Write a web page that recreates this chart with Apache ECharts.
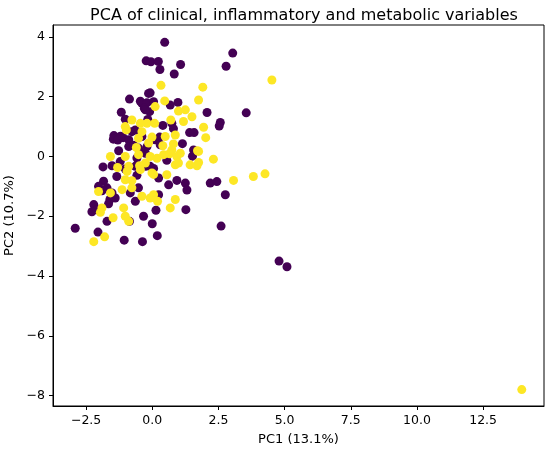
<!DOCTYPE html>
<html>
<head>
<meta charset="utf-8">
<script src="https://cdn.jsdelivr.net/npm/echarts@6/dist/echarts.min.js"></script>
<style>
  html, body { margin: 0; padding: 0; background: #fff; }
  #chart { width: 550px; height: 452px; }
</style>
</head>
<body>
<div id="chart"></div>
<script>
// PC1 / PC2 scores, group 0 (dark purple)
var group0 = [
  [0.47, 3.82], [3.04, 3.46], [2.79, 3.02], [1.07, 3.08], [-0.23, 3.2], [-0.05, 3.17],
  [0.23, 3.18], [0.29, 2.91], [0.83, 2.76], [-0.08, 2.13], [-0.14, 2.11], [-0.86, 1.92],
  [0.97, 1.81], [-0.39, 1.78], [-0.45, 1.85], [-0.2, 1.8], [0.05, 1.83], [-0.3, 1.61],
  [-0.1, 1.5], [-0.26, 1.56], [0.68, 1.72], [2.07, 1.47], [3.55, 1.46], [-1.17, 1.48],
  [-1.02, 1.25], [-0.17, 1.24], [0.4, 1.04], [0.74, 1.11], [2.57, 1.14], [2.53, 1.02],
  [0.8, 0.93], [1.41, 0.8], [1.58, 0.8], [-1.45, 0.7], [-1.35, 0.62], [-1.2, 0.68],
  [-1.47, 0.58], [-1.3, 0.55], [-1.1, 0.63], [-0.89, 0.56], [-0.77, 0.83], [-0.64, 0.89],
  [-0.39, 0.67], [-0.45, 0.8], [0.11, 0.56], [0.28, 0.65], [0.3, 0.39], [1.14, 0.43],
  [-0.89, 0.33], [-0.52, 0.28], [-0.7, 0.38], [-1.27, 0.19], [-0.26, 0.11], [-0.2, 0.33],
  [-0.45, 0.16], [1.56, 0.22], [1.52, 0.01], [0.55, -0.13], [-0.58, -0.05], [-1.21, -0.17],
  [-0.64, -0.33], [-0.25, -0.33], [0.05, -0.4], [-1.86, -0.35], [-1.52, -0.31], [-1.02, -0.42],
  [-1.34, -0.67], [-0.58, -0.63], [-0.08, -0.33], [0.24, -0.72], [0.62, -0.95], [0.93, -0.8],
  [1.25, -0.89], [1.31, -1.12], [2.19, -0.89], [2.44, -0.84], [2.76, -1.28], [-1.84, -0.83],
  [-2.03, -1.0], [-1.71, -1.05], [-1.9, -1.15], [-1.52, -1.22], [-1.4, -1.39], [-1.6, -1.44],
  [-0.52, -1.05], [-0.83, -1.22], [0.24, -1.28], [-0.64, -1.5], [-2.21, -1.61], [-2.09, -1.78],
  [-2.28, -1.85], [-1.65, -1.58], [-1.71, -2.17], [-0.86, -2.17], [-0.33, -2.0], [0.0, -2.25],
  [0.14, -1.8], [1.27, -1.78], [2.6, -2.33], [-2.91, -2.4], [-2.05, -2.53], [-1.06, -2.8],
  [-0.37, -2.85], [0.19, -2.65], [4.79, -3.5], [5.09, -3.69]
];

// PC1 / PC2 scores, group 1 (yellow)
var group1 = [
  [4.52, 2.56], [0.33, 2.38], [1.91, 2.32], [1.75, 1.89], [0.47, 1.86], [0.11, 1.67],
  [0.99, 1.52], [1.25, 1.56], [1.5, 1.33], [-0.77, 1.22], [-0.45, 1.11], [-0.2, 1.11],
  [0.09, 1.11], [-1.02, 1.0], [0.7, 1.22], [1.18, 1.17], [1.94, 0.98], [-0.39, 0.83],
  [-0.98, 0.89], [2.02, 0.63], [-0.52, 0.61], [-0.01, 0.65], [0.49, 0.67], [0.87, 0.72],
  [-0.14, 0.45], [0.4, 0.36], [0.8, 0.42], [0.74, 0.22], [1.71, 0.19], [-0.6, 0.3],
  [-1.58, 0.0], [-1.02, 0.0], [-0.52, 0.06], [-0.08, 0.0], [0.43, 0.06], [0.65, 0.09],
  [0.93, 0.0], [1.06, 0.11], [1.75, 0.17], [0.18, -0.06], [-0.89, -0.33], [-0.26, -0.22],
  [-0.48, -0.31], [1.75, -0.2], [1.43, -0.28], [1.69, -0.31], [2.31, -0.09], [0.87, -0.28],
  [0.99, -0.22], [-1.31, -0.37], [-0.95, -0.5], [-1.02, -0.78], [-0.77, -0.81], [-1.14, -1.11],
  [-0.77, -1.05], [-0.45, -0.44], [-0.01, -0.55], [0.05, -0.6], [0.55, -0.61], [3.82, -0.67],
  [4.26, -0.58], [3.07, -0.8], [-0.39, -1.33], [-0.08, -1.39], [0.05, -1.28], [0.2, -1.5],
  [-1.9, -1.72], [-2.03, -1.17], [-1.58, -1.22], [-1.08, -1.72], [-1.02, -2.0], [-0.89, -2.17],
  [-1.48, -2.05], [0.87, -1.44], [0.68, -1.72], [-1.96, -1.87], [-1.8, -2.69], [-2.21, -2.85],
  [13.96, -7.8]
];

var xTicks = [-2.5, 0, 2.5, 5, 7.5, 10, 12.5];
var yTicks = [-8, -6, -4, -2, 0, 2, 4];

var FONT = 'DejaVu Sans';

function minus(s) {
  return s.replace('-', '\u2212');
}

var chart = echarts.init(document.getElementById('chart'));
chart.setOption({
  animation: false,
  backgroundColor: '#fff',
  title: {
    text: 'PCA of clinical, inflammatory and metabolic variables',
    left: 299,
    top: 3,
    textAlign: 'center',
    textStyle: { fontFamily: FONT, fontSize: 16, fontWeight: 'normal', color: '#000' }
  },
  grid: {
    left: 53, right: 6, top: 25, bottom: 46,
    outerBoundsMode: 'none',
    show: true, borderColor: '#000', borderWidth: 1
  },
  xAxis: {
    type: 'value',
    min: -3.75,
    max: 14.8,
    name: 'PC1 (13.1%)',
    nameLocation: 'middle',
    nameGap: 27,
    nameTextStyle: { fontFamily: FONT, fontSize: 13, color: '#000' },
    splitLine: { show: false },
    axisLine: { onZero: false, lineStyle: { color: '#000', width: 1 } },
    axisTick: { customValues: xTicks, length: 4, lineStyle: { color: '#000' } },
    axisLabel: {
      customValues: xTicks,
      margin: 8,
      fontFamily: FONT, fontSize: 12.5, color: '#000',
      formatter: function (v) { return minus(v.toFixed(1)); }
    }
  },
  yAxis: {
    type: 'value',
    min: -8.35,
    max: 4.4,
    name: 'PC2 (10.7%)',
    nameLocation: 'middle',
    nameGap: 35,
    nameTextStyle: { fontFamily: FONT, fontSize: 13, color: '#000' },
    splitLine: { show: false },
    axisLine: { onZero: false, lineStyle: { color: '#000', width: 1 } },
    axisTick: { customValues: yTicks, length: 4, lineStyle: { color: '#000' } },
    axisLabel: {
      customValues: yTicks,
      margin: 8,
      fontFamily: FONT, fontSize: 12.5, color: '#000',
      formatter: function (v) { return minus(String(v)); }
    }
  },
  series: [
    {
      type: 'scatter',
      data: group0,
      symbolSize: 9,
      itemStyle: { color: '#440154', opacity: 1 }
    },
    {
      type: 'scatter',
      data: group1,
      symbolSize: 9,
      itemStyle: { color: '#fde725', opacity: 1 }
    }
  ]
});
</script>
</body>
</html>
